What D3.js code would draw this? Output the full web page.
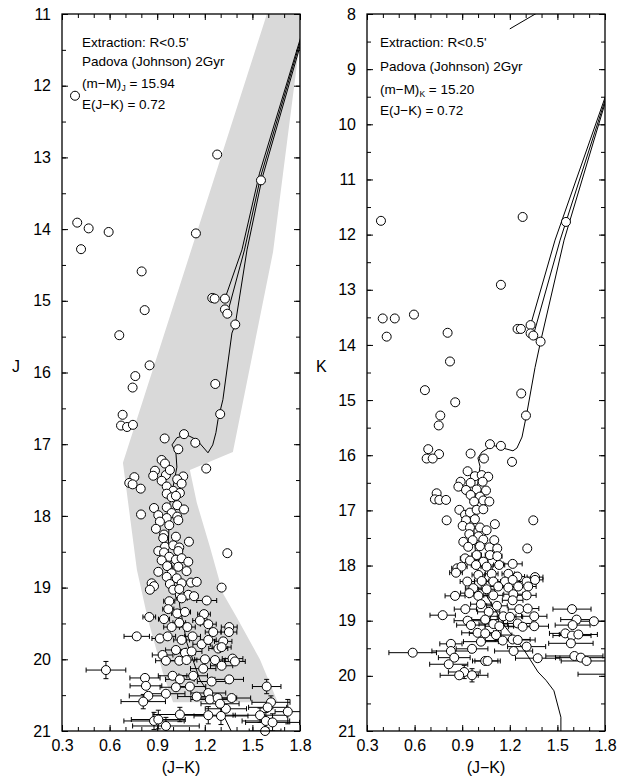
<!DOCTYPE html>
<html><head><meta charset="utf-8">
<script src="https://cdn.jsdelivr.net/npm/d3@7"></script>
<style>body{margin:0;background:#fff}svg text{font-family:Arial,"Liberation Sans",sans-serif;fill:#000}</style>
</head><body><svg id="c" width="624" height="777"></svg>
<script>
// ---------- DATA ----------
const colorTicks = [0.3,0.6,0.9,1.2,1.5,1.8];
const colorMinor = [0.3,0.4,0.5,0.6,0.7,0.8,0.9,1.0,1.1,1.2,1.3,1.4,1.5,1.6,1.7,1.8];
const jTicks = [11,12,13,14,15,16,17,18,19,20,21];
const kTicks = [8,9,10,11,12,13,14,15,16,17,18,19,20,21];
const textJ = ["Extraction: R<0.5'","Padova (Johnson) 2Gyr","(m\u2212M)","J"," = 15.94","E(J\u2212K) = 0.72"];
const textK = ["Extraction: R<0.5'","Padova (Johnson) 2Gyr","(m\u2212M)","K"," = 15.20","E(J\u2212K) = 0.72"];

// gray band (J-K, J)
const bandJ = [[1.606,10.9],[1.84,10.9],[1.79,11.54],[1.63,14.32],[1.377,17.11],[1.106,17.36],[1.15,17.82],[1.232,18.43],[1.314,19.08],[1.40,19.41],[1.547,20.0],[1.66,20.6],[1.0,20.6],[0.936,20.19],[0.842,19.45],[0.772,18.75],[0.684,17.26]];

// isochrone, left panel
const isoJmain = [[1.377,21.05],[1.30,20.7],[1.17,20.29],[1.087,19.77],[1.043,19.27],[1.024,18.9],[0.968,18.52],[0.98,17.82],[1.024,17.32],[1.018,17.12],[0.993,17.01],[1.024,16.91],[1.087,16.87],[1.15,16.94],[1.22,17.12],[1.25,17.01],[1.27,16.84],[1.283,16.66],[1.314,16.38],[1.371,15.45],[1.392,15.33],[1.466,14.29],[1.56,13.3],[1.83,11.22]];
const isoJbranchA = [[1.327,14.97],[1.434,14.29],[1.545,13.22],[1.83,11.14]];
const isoJbranchB = [[1.342,15.18],[1.45,14.29],[1.553,13.26],[1.83,11.17]];

// isochrone, right panel
const isoKmain = [[1.522,21.05],[1.522,20.75],[1.478,20.27],[1.428,20.08],[1.378,19.93],[1.283,19.5],[1.176,19.13],[1.05,18.53],[1.0,18.08],[0.98,17.66],[0.968,17.05],[0.993,16.63],[1.012,16.2],[0.999,16.05],[1.025,15.94],[1.094,15.82],[1.157,15.87],[1.22,15.92],[1.245,15.87],[1.277,15.67],[1.308,15.23],[1.359,14.41],[1.394,13.94],[1.542,12.1],[1.83,9.33]];
const isoKbranchA = [[1.331,13.64],[1.485,12.1],[1.83,9.27]];
const isoKbranchB = [[1.348,13.83],[1.517,12.1],[1.83,9.30]];
const isoKtip = [[1.20,8.27],[1.42,7.9]];

// stars: [J-K, J, err(J-K), err(J)]
const starsJ = [
[0.382,12.14],[1.278,12.96],[1.554,13.32],[0.396,13.91],[0.468,13.99],[0.594,14.04],[1.144,14.06],[0.42,14.28],
[0.802,14.59],[1.247,14.96],[1.262,14.97],[1.327,14.97],[1.327,15.12],[1.342,15.18],[1.392,15.33],[0.821,15.13],
[0.661,15.48],[0.852,15.9],[0.762,16.05],[0.745,16.21],[1.266,16.16],[1.297,16.58],[0.682,16.59],[0.672,16.74],
[0.71,16.76],[0.747,16.73],[0.947,16.92],[1.069,16.86],[1.14,16.98],[1.033,17.07],
[1.209,17.34],[0.928,17.22],[0.949,17.27],[0.886,17.37],[0.875,17.44],[0.955,17.43],[0.98,17.36],[1.064,17.45],
[1.026,17.49],[0.928,17.51],[0.756,17.46],[0.724,17.54],[0.745,17.56],[0.796,17.62],[1.054,17.55],[0.96,17.59],
[1.001,17.65],[1.043,17.68],[0.96,17.69],[0.991,17.74],[1.018,17.72],[0.88,17.89],[0.96,17.88],[1.026,17.85],
[1.069,17.91],[0.798,17.98],[0.907,17.99],[0.991,17.96],[1.026,18.01],[0.96,18.03],[0.917,18.08],[1.033,18.06],
[0.892,18.18],[0.976,18.13],[0.943,18.26],[0.938,18.31],[1.018,18.29],[1.10,18.36],[0.949,18.43],[1.001,18.41],
[1.039,18.44],[0.907,18.49],[0.943,18.51],[1.033,18.49],[1.342,18.52],[0.976,18.57],[1.018,18.61],[1.054,18.59],
[1.096,18.64],[0.928,18.62],[0.963,18.70],[1.033,18.71],
[0.907,18.78,0.02,0],[1.085,18.77,0.02,0],[0.991,18.80,0.02,0],[0.96,18.85,0.02,0],[1.023,18.87,0.02,0],
[0.865,18.94,0.02,0],[0.88,18.98,0.02,0],[0.854,19.03,0.02,0],[0.98,18.95,0.02,0],[1.054,18.94,0.02,0],
[1.113,18.93,0.02,0],[1.149,18.92,0.02,0],[1.306,19.0,0.02,0],[1.001,19.03,0.02,0],[1.043,19.10,0.025,0],
[1.096,19.10,0.025,0],[1.132,19.12,0.025,0],[1.039,19.02,0.02,0],
[0.976,19.19,0.035,0],[1.054,19.15,0.035,0],[1.212,19.18,0.063,0],[0.85,19.41,0.04,0],[0.943,19.44,0.035,0],
[0.97,19.30,0.035,0],[1.026,19.36,0.035,0],[1.075,19.34,0.035,0],[1.195,19.37,0.04,0],[1.039,19.49,0.04,0],
[0.991,19.55,0.05,0],[1.09,19.55,0.05,0],[1.169,19.46,0.045,0],[1.222,19.51,0.05,0],[1.253,19.62,0.05,0],
[1.354,19.55,0.05,0],[1.352,19.62,0.05,0],[0.771,19.68,0.08,0],[0.917,19.71,0.05,0],[0.966,19.68,0.05,0],
[1.054,19.73,0.05,0],[1.123,19.68,0.05,0],[1.18,19.79,0.055,0],[1.222,19.73,0.05,0],[1.285,19.85,0.06,0],
[1.316,19.75,0.055,0],
[1.018,19.87,0.065,0],[1.075,19.91,0.065,0],[1.117,19.89,0.065,0],[1.306,19.83,0.06,0],[0.934,19.94,0.065,0],
[0.955,20.02,0.065,0],[1.039,20.02,0.065,0],[1.085,20.01,0.065,0],[1.201,20.0,0.065,0],[1.264,20.01,0.065,0],
[1.375,19.99,0.065,0],[1.39,20.03,0.065,0],[1.306,20.09,0.07,0],
[1.19,20.13,0.08,0],[0.577,20.15,0.125,0.12],[0.823,20.26,0.095,0],[0.997,20.23,0.09,0],[1.043,20.28,0.09,0],
[1.127,20.23,0.09,0],[1.243,20.31,0.09,0],[1.354,20.28,0.09,0],[0.829,20.37,0.1,0],[1.018,20.39,0.1,0],[1.106,20.38,0.1,0],
[0.955,20.48,0.12,0],[0.844,20.51,0.12,0],[0.812,20.59,0.14,0.1],[1.149,20.52,0.12,0],[1.222,20.47,0.11,0],
[1.232,20.56,0.12,0],[1.281,20.54,0.12,0],[1.369,20.54,0.12,0],[1.333,20.69,0.13,0],[1.296,20.62,0.12,0],
[1.59,20.38,0.09,0.1],[1.617,20.6,0.12,0.09],[1.596,20.67,0.12,0],
[1.548,20.78,0.17,0.1],[1.723,20.73,0.08,0.17],[1.585,20.86,0.15,0.12],[1.627,20.88,0.17,0.12],[1.58,21.0,0.1,0.12],
[1.043,20.77,0.17,0.1],[1.222,20.78,0.17,0.12],[1.302,20.79,0.17,0.12],[0.88,20.86,0.19,0.12],[0.907,20.84,0.17,0.13],
[0.955,20.93,0.21,0.12]
];

// stars: [J-K, K, err(J-K), err(K)]
const starsK = [
[0.388,11.75],[1.281,11.68],[1.554,11.77],[1.144,12.91],[0.399,13.52],[0.475,13.52],[0.596,13.45],[0.424,13.85],
[0.808,13.78],[1.249,13.71],[1.27,13.71],[1.331,13.64],[1.331,13.79],[1.348,13.83],[1.394,13.94],[0.823,14.3],
[0.665,14.82],[1.272,14.88],[0.856,15.04],[0.762,15.28],[0.752,15.46],[1.302,15.28],[1.075,15.8],[1.144,15.83],
[0.686,15.89],[0.754,15.98],[0.676,16.06],[0.714,16.06],[0.953,15.97],[1.037,16.06],[1.214,16.12],
[0.934,16.29],[0.98,16.38],[1.023,16.36],[1.064,16.39],[0.89,16.48],[0.953,16.5],[0.876,16.57],[1.029,16.48],
[0.924,16.63],[0.991,16.62],[1.05,16.64],[0.953,16.72],[1.012,16.75],[0.739,16.69],[0.728,16.8],[0.756,16.81],
[0.798,16.81],[0.975,16.84],[1.033,16.82],[1.071,16.84],[0.882,16.99],[0.918,17.08],[0.949,17.04],[0.991,16.99],
[1.033,16.98],[0.802,17.18],[0.924,17.18],[0.98,17.16],[1.106,17.25],[1.348,17.18],[0.903,17.28],[0.949,17.31],
[1.012,17.31],[1.054,17.36],[0.945,17.43],[1.002,17.47],[0.907,17.57],[0.966,17.54],[1.033,17.53],[1.102,17.54],
[0.938,17.66,0.02,0],[1.012,17.65,0.02,0],[1.071,17.67,0.02,0],[1.121,17.69,0.02,0],[1.31,17.69,0.02,0],
[0.918,17.87,0.03,0],[0.991,17.81,0.03,0],[1.075,17.81,0.03,0],[1.121,17.83,0.03,0],[0.949,17.91,0.03,0],
[1.033,17.93,0.03,0],[0.987,17.99,0.03,0],[1.054,18.02,0.035,0],[1.133,17.99,0.035,0],[1.218,17.97,0.06,0],
[0.869,18.05,0.035,0],[0.896,18.02,0.035,0],[0.861,18.13,0.04,0],[1.002,18.17,0.04,0],[1.086,18.15,0.04,0],
[1.191,18.15,0.04,0],[1.248,18.2,0.045,0],[1.359,18.21,0.05,0],[0.932,18.29,0.045,0],[1.023,18.28,0.045,0],
[1.096,18.29,0.045,0],[1.17,18.29,0.045,0],[1.218,18.26,0.045,0],[1.306,18.29,0.05,0],[1.359,18.26,0.05,0],
[0.97,18.41,0.05,0],[1.054,18.43,0.05,0],[1.127,18.38,0.05,0],[1.191,18.4,0.05,0],[1.253,18.38,0.05,0],
[1.316,18.38,0.05,0],[0.855,18.55,0.063,0],[0.945,18.5,0.055,0],[1.002,18.55,0.06,0],[1.096,18.54,0.06,0],
[1.222,18.52,0.06,0],[1.306,18.54,0.06,0],
[0.777,18.9,0.08,0],[0.92,18.79,0.07,0],[1.018,18.7,0.065,0],[1.067,18.84,0.07,0],[1.119,18.73,0.065,0],
[1.218,18.63,0.065,0],[1.26,18.79,0.07,0],[1.313,18.78,0.07,0],[1.354,18.92,0.08,0],[1.159,18.92,0.08,0],
[1.201,18.93,0.08,0],[0.934,19.0,0.085,0],[0.955,19.08,0.09,0],[1.045,18.98,0.085,0],[1.096,19.06,0.09,0],
[1.134,19.1,0.09,0],[1.25,19.05,0.09,0],[1.281,19.11,0.09,0],[1.354,19.1,0.09,0],[1.592,18.79,0.12,0],
[1.621,18.98,0.1,0],[1.596,19.08,0.11,0],[1.73,19.01,0.09,0],[1.55,19.23,0.1,0],[1.592,19.27,0.12,0],
[1.632,19.25,0.12,0],[1.585,19.41,0.14,0],[0.997,19.22,0.1,0],[1.045,19.23,0.1,0],[1.113,19.26,0.1,0],
[1.155,19.36,0.11,0],[1.218,19.34,0.11,0],[1.25,19.35,0.11,0],[1.018,19.38,0.11,0],[0.588,19.58,0.15,0],
[0.829,19.42,0.07,0],[0.829,19.55,0.12,0],[0.962,19.51,0.1,0],[1.224,19.55,0.12,0],[1.306,19.47,0.12,0],
[0.85,19.67,0.1,0],[0.815,19.79,0.12,0],[1.045,19.73,0.08,0],[1.06,19.73,0.08,0],[1.376,19.68,0.14,0],
[1.607,19.64,0.18,0],[1.648,19.67,0.16,0],[1.684,19.73,0.16,0],[0.913,19.93,0.1,0.12],[0.881,19.99,0.12,0],
[0.962,19.99,0.1,0.12],[1.88,19.97,0.25,0]
];

// ---------- DRAW ----------
const svg = d3.select('#c');
const TOP = 14, BOT = 731;

function panel(o){
  const x = d3.scaleLinear().domain([0.3,1.8]).range([o.x0,o.x1]);
  const y = d3.scaleLinear().domain(o.yDomain).range([TOP,BOT]);
  const g = svg.append('g');
  const cid = o.id + 'clip', hid = o.id + 'hclip';
  svg.append('clipPath').attr('id',cid).append('rect')
    .attr('x',o.x0).attr('y',TOP).attr('width',o.x1-o.x0).attr('height',BOT-TOP);
  svg.append('clipPath').attr('id',hid).append('rect')
    .attr('x',o.x0).attr('y',0).attr('width',o.x1-o.x0).attr('height',777);
  const inner = g.append('g').attr('clip-path',`url(#${cid})`);
  const line = d3.line().x(d=>x(d[0])).y(d=>y(d[1]));
  if(o.band){
    inner.append('path').attr('d',line(o.band)+'Z').attr('fill','#d9d9d9').attr('stroke','none');
  }
  o.lines.forEach(L=>{
    inner.append('path').attr('d',line(L)).attr('fill','none').attr('stroke','#000').attr('stroke-width',1);
  });

  // axes
  const yMinor = [];
  for(let v=o.yDomain[0]; v<=o.yDomain[1]; v+=0.5) yMinor.push(v);
  const mk = (ax,sz,vals)=>ax.tickValues(vals).tickSize(sz).tickFormat('');
  const ax = g.append('g').attr('class','axes');
  ax.append('g').attr('transform',`translate(0,${BOT})`).call(mk(d3.axisBottom(x),-4,colorMinor));
  ax.append('g').attr('transform',`translate(0,${TOP})`).call(mk(d3.axisTop(x),-4,colorMinor));
  ax.append('g').attr('transform',`translate(0,${TOP})`).call(mk(d3.axisTop(x),-6,colorTicks));
  ax.append('g').attr('transform',`translate(${o.x0},0)`).call(mk(d3.axisLeft(y),-4,yMinor));
  ax.append('g').attr('transform',`translate(${o.x1},0)`).call(mk(d3.axisRight(y),-4,yMinor));
  ax.append('g').attr('transform',`translate(${o.x1},0)`).call(mk(d3.axisRight(y),-6,o.yTicks));
  ax.append('g').attr('transform',`translate(0,${BOT})`)
    .call(d3.axisBottom(x).tickValues(colorTicks).tickSize(-6).tickPadding(9).tickFormat(d3.format('.1f')))
    .selectAll('text').attr('font-size',16);
  ax.append('g').attr('transform',`translate(${o.x0},0)`)
    .call(d3.axisLeft(y).tickValues(o.yTicks).tickSize(-6).tickPadding(11).tickFormat(d3.format('d')))
    .selectAll('text').attr('font-size',16);
  ax.selectAll('.domain').remove();
  ax.selectAll('line').attr('stroke','#000').attr('stroke-width',1);
  ax.selectAll('text').attr('font-family','Arial, Liberation Sans, sans-serif').attr('fill','#000');

  // error bars (clipped to frame)
  const eb = inner.append('g').attr('stroke','#000').attr('stroke-width',1);
  o.stars.forEach(d=>{
    const cx=x(d[0]), cy=y(d[1]), ex=d[2]||0, ey=d[3]||0;
    if(ex>0){
      const a=x(d[0]-ex), b=x(d[0]+ex);
      eb.append('line').attr('x1',a).attr('x2',b).attr('y1',cy).attr('y2',cy);
      eb.append('line').attr('x1',a).attr('x2',a).attr('y1',cy-2.5).attr('y2',cy+2.5);
      eb.append('line').attr('x1',b).attr('x2',b).attr('y1',cy-2.5).attr('y2',cy+2.5);
    }
    if(ey>0){
      const a=y(d[1]-ey), b=y(d[1]+ey);
      eb.append('line').attr('x1',cx).attr('x2',cx).attr('y1',a).attr('y2',b);
      eb.append('line').attr('x1',cx-2.5).attr('x2',cx+2.5).attr('y1',a).attr('y2',a);
      eb.append('line').attr('x1',cx-2.5).attr('x2',cx+2.5).attr('y1',b).attr('y2',b);
    }
  });
  g.append('g').attr('clip-path',`url(#${hid})`).selectAll('circle').data(o.stars).join('circle')
    .attr('cx',d=>x(d[0])).attr('cy',d=>y(d[1])).attr('r',4.5)
    .attr('fill','#fff').attr('stroke','#000').attr('stroke-width',1);

  // frame
  g.append('rect').attr('x',o.x0).attr('y',TOP).attr('width',o.x1-o.x0).attr('height',BOT-TOP)
    .attr('fill','none').attr('stroke','#000').attr('stroke-width',1.3);

  // annotation
  const t = o.text, tx = o.x0 + o.tdx, tb = o.tBase;
  const ann = g.append('g').attr('font-size',13.5);
  ann.append('text').attr('x',tx).attr('y',tb[0]).text(t[0]);
  ann.append('text').attr('x',tx).attr('y',tb[1]).text(t[1]);
  const m = ann.append('text').attr('x',tx).attr('y',tb[2]);
  m.append('tspan').text(t[2]);
  m.append('tspan').attr('font-size',8.5).attr('dy',3).text(t[3]);
  m.append('tspan').attr('dy',-3).text(t[4]);
  ann.append('text').attr('x',tx).attr('y',tb[3]).text(t[5]);

  // axis titles
  g.append('text').attr('x',o.yLabX).attr('y',372).attr('font-size',16).text(o.yLabel);
  g.append('text').attr('x',(o.x0+o.x1)/2).attr('y',773).attr('text-anchor','middle').attr('font-size',16).text('(J\u2212K)');
}

panel({id:'pj',x0:62,x1:300,yDomain:[11,21],yTicks:jTicks,band:bandJ,
  lines:[isoJmain,isoJbranchA,isoJbranchB],stars:starsJ,text:textJ,tdx:20,tBase:[47,66,88,109],
  yLabel:'J',yLabX:12});
panel({id:'pk',x0:367,x1:605,yDomain:[8,21],yTicks:kTicks,band:null,
  lines:[isoKmain,isoKbranchA,isoKbranchB,isoKtip],stars:starsK,text:textK,tdx:13,tBase:[47,71,94,115],
  yLabel:'K',yLabX:316});
</script></body></html>
